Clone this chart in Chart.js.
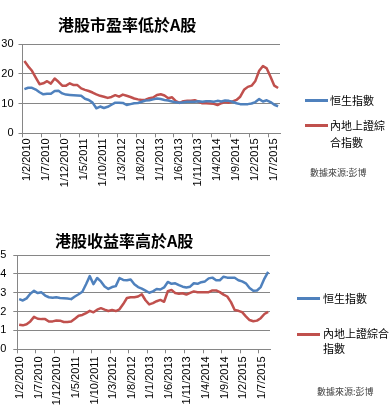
<!DOCTYPE html>
<html>
<head>
<meta charset="utf-8">
<script src="https://cdn.jsdelivr.net/npm/chart.js@4/dist/chart.umd.min.js"></script>
<style>
  html, body { margin: 0; padding: 0; background: #fff; }
  body { width: 392px; height: 409px; position: relative; overflow: hidden; font-family: "Noto Sans CJK TC", "Noto Sans", sans-serif; }
  canvas { position: absolute; left: 0; }
  .t { position: absolute; white-space: nowrap; color: #000; }
  .title { font-size: 16px; font-weight: bold; line-height: 20px; }
  .leg { font-size: 11px; line-height: 16px; }
  .src { font-size: 9px; line-height: 12px; color: #444; }
  .ln { position: absolute; height: 3px; width: 23px; }
</style>
</head>
<body>
<canvas id="c1" width="392" height="205" style="top:0"></canvas>
<canvas id="c2" width="392" height="204" style="top:205px"></canvas>

<div class="t title" style="left:58px;top:14px">港股市盈率低於A股</div>
<div class="ln" style="left:305px;top:99px;background:#4f81bd"></div>
<div class="t leg" style="left:330px;top:92px">恒生指數</div>
<div class="ln" style="left:305px;top:124px;background:#c0504d"></div>
<div class="t leg" style="left:330px;top:117px;line-height:16.6px">內地上證綜<br>合指數</div>
<div class="t src" style="left:310px;top:167px">數據來源:彭博</div>

<div class="t title" style="left:55px;top:230px">港股收益率高於A股</div>
<div class="ln" style="left:297px;top:297px;background:#4f81bd"></div>
<div class="t leg" style="left:323px;top:290px">恒生指數</div>
<div class="ln" style="left:297px;top:333px;background:#c0504d"></div>
<div class="t leg" style="left:323px;top:326px;line-height:14.6px">內地上證綜合<br>指數</div>
<div class="t src" style="left:317px;top:386px">數據來源:彭博</div>

<script>
const categories = [
  '1/2/2010','1/3/2010','1/4/2010','1/5/2010','1/6/2010','1/7/2010','1/8/2010','1/9/2010','1/10/2010','1/11/2010','1/12/2010',
  '1/1/2011','1/2/2011','1/3/2011','1/4/2011','1/5/2011','1/6/2011','1/7/2011','1/8/2011','1/9/2011','1/10/2011','1/11/2011','1/12/2011',
  '1/1/2012','1/2/2012','1/3/2012','1/4/2012','1/5/2012','1/6/2012','1/7/2012','1/8/2012','1/9/2012','1/10/2012','1/11/2012','1/12/2012',
  '1/1/2013','1/2/2013','1/3/2013','1/4/2013','1/5/2013','1/6/2013','1/7/2013','1/8/2013','1/9/2013','1/10/2013','1/11/2013','1/12/2013',
  '1/1/2014','1/2/2014','1/3/2014','1/4/2014','1/5/2014','1/6/2014','1/7/2014','1/8/2014','1/9/2014','1/10/2014','1/11/2014','1/12/2014',
  '1/1/2015','1/2/2015','1/3/2015','1/4/2015','1/5/2015','1/6/2015','1/7/2015','1/8/2015','1/9/2015'
];
const tickLabels = ['1/2/2010','1/7/2010','1/12/2010','1/5/2011','1/10/2011','1/3/2012','1/8/2012',
  '1/1/2013','1/6/2013','1/11/2013','1/4/2014','1/9/2014','1/2/2015','1/7/2015'];

// 港股市盈率低於A股 (P/E)
const peHSI = [14.85,15.3,15.3,14.7,13.8,13.1,13.3,13.3,14.2,14.3,
  13.4,13.0,12.9,12.8,12.7,12.6,11.6,11.2,10.3,8.4,
  9.0,8.5,8.9,9.6,10.3,10.3,10.2,9.5,9.8,10.1,
  10.2,10.6,11.0,11.1,11.4,11.7,11.5,11.2,11.0,10.7,
  10.4,10.3,10.4,10.6,10.6,10.6,10.8,10.6,10.8,10.8,
  10.6,10.9,10.7,11.0,10.9,10.6,10.1,9.8,9.8,9.8,
  10.0,10.5,11.5,10.7,11.1,10.5,9.6,9.1];
const peSH = [24.3,22.5,21.0,18.7,16.5,16.8,17.5,16.7,18.4,17.3,
  16.0,16.0,16.8,16.2,16.2,15.1,14.6,14.2,13.7,13.1,
  12.6,12.3,11.9,12.2,12.8,12.3,13.0,12.6,12.2,11.7,
  11.4,11.2,11.3,11.8,12.0,12.9,13.1,12.7,11.8,12.1,
  10.8,10.2,10.8,10.9,10.9,11.1,10.6,10.1,10.1,10.0,
  9.9,9.5,10.1,10.5,10.3,10.7,11.2,12.3,14.6,15.6,
  16.0,17.6,21.0,22.6,21.8,19.0,16.0,15.2];

// 港股收益率高於A股 (dividend yield)
const dyHSI = [2.66,2.59,2.7,2.95,3.1,2.98,3.02,2.85,2.76,2.73,
  2.76,2.72,2.71,2.69,2.66,2.8,2.92,3.05,3.45,3.88,
  3.45,3.78,3.6,3.33,3.2,3.3,3.35,3.78,3.68,3.66,
  3.7,3.45,3.3,3.22,3.11,3.0,3.07,3.2,3.17,3.28,
  3.57,3.47,3.5,3.4,3.32,3.28,3.32,3.5,3.47,3.56,
  3.6,3.76,3.8,3.66,3.66,3.85,3.8,3.79,3.79,3.66,
  3.6,3.5,3.25,3.1,3.12,3.3,3.75,4.1];
const dySH = [1.3,1.27,1.33,1.48,1.72,1.62,1.6,1.6,1.47,1.48,
  1.53,1.52,1.45,1.45,1.47,1.62,1.78,1.82,1.92,2.04,
  1.96,2.1,2.18,2.1,2.03,2.08,2.03,2.12,2.4,2.72,
  2.76,2.76,2.8,2.92,2.6,2.38,2.45,2.55,2.62,2.52,
  3.08,3.15,2.98,2.94,2.97,2.9,2.99,3.07,3.03,3.03,
  3.03,3.03,3.12,3.12,3.03,2.9,2.8,2.5,2.08,2.04,
  1.97,1.75,1.55,1.49,1.52,1.65,1.87,1.98];

const BLUE = '#4f81bd', RED = '#c0504d', GRID = '#868686';
const FONT = '"Liberation Sans", Arial, sans-serif';

function makeChart(id, s1, s2, ymax, step, geo) {
  return new Chart(document.getElementById(id), {
    type: 'line',
    data: {
      labels: categories,
      datasets: [
        { label: '恒生指數', data: s1, borderColor: BLUE, borderWidth: 2.5, pointRadius: 0, tension: 0, borderJoinStyle: 'round', fill: false },
        { label: '內地上證綜合指數', data: s2, borderColor: RED, borderWidth: 2.5, pointRadius: 0, tension: 0, borderJoinStyle: 'round', fill: false }
      ]
    },
    options: {
      responsive: false, animation: false, devicePixelRatio: 1,
      layout: { padding: { left: 0, right: geo.right, top: geo.top, bottom: 0 } },
      plugins: { legend: { display: false }, title: { display: false }, tooltip: { enabled: false } },
      scales: {
        x: {
          type: 'category', offset: true,
          grid: { offset: true, drawOnChartArea: false, drawTicks: true, tickLength: 4,
                  color: ctx => (ctx.index % 5 === 0 ? GRID : 'rgba(0,0,0,0)') },
          border: { display: true, color: GRID, width: 1 },
          ticks: {
            autoSkip: false, minRotation: 90, maxRotation: 90, padding: geo.xpad, labelOffset: geo.loff,
            color: '#000', font: { family: FONT, size: 11 },
            callback: function (v, i) { return tickLabels.includes(categories[i]) ? categories[i] : ''; }
          },
          afterFit: s => { s.height = geo.xh; }
        },
        y: {
          min: 0, max: ymax,
          grid: { color: GRID, lineWidth: 1, tickLength: 4 },
          border: { display: true, color: GRID, width: 1 },
          ticks: { stepSize: step, padding: geo.ypad, color: '#000', font: { family: FONT, size: 11 } },
          afterFit: s => { s.width = geo.yw; }
        }
      }
    }
  });
}

makeChart('c1', peHSI, peSH, 30, 5, { right: 112, top: 44, xh: 71.7, yw: 22.5, ypad: 5, xpad: 1, loff: 3 });
makeChart('c2', dyHSI, dySH, 5, 1, { right: 122, top: 50, xh: 59.7, yw: 17.3, ypad: 7, xpad: 3, loff: 1 });
</script>
</body>
</html>
